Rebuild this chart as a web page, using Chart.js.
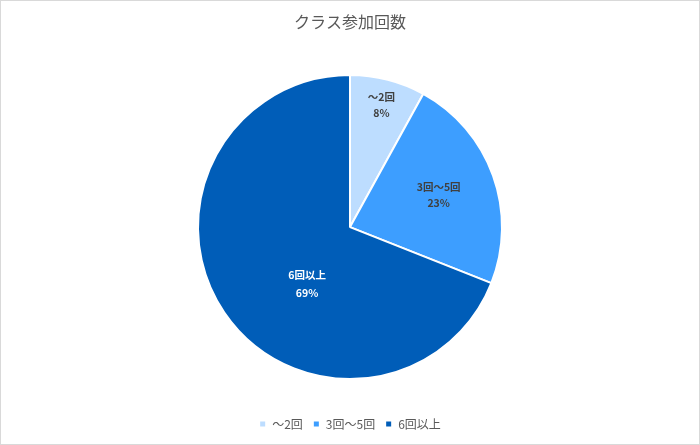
<!DOCTYPE html>
<html>
<head>
<meta charset="utf-8">
<script src="https://cdn.jsdelivr.net/npm/chart.js@4"></script>
<style>
  body { margin: 0; background: #fff; }
  #wrap { width: 700px; height: 445px; box-sizing: border-box; border: 1px solid #d9d9d9; }
</style>
</head>
<body>
<div id="wrap"><canvas id="pieChart" width="698" height="443"></canvas></div>
<script>
const categories = ["～2回", "3回～5回", "6回以上"];
const shares = [8, 23, 69];
const sliceColors = ["#BDDDFF", "#3D9EFF", "#005DB8"];

// label colour, distance from centre (fraction of radius), turn from mid-angle, line gap
const labelColors = ["#404040", "#404040", "#ffffff"];
const labelDist = [0.83, 0.62, 0.47];
const labelTurn = [0, 0, -0.33];
const labelGap = [16, 16, 18];

const jpFont = "'Noto Sans CJK JP', 'Noto Sans', sans-serif";

// draws "category / percent" inside each slice
const sliceLabels = {
    id: "sliceLabels",
    afterDatasetsDraw(chart) {
        const c = chart.ctx;
        const meta = chart.getDatasetMeta(0);
        c.save();
        c.font = "bold 10.5px " + jpFont;
        c.textAlign = "center";
        c.textBaseline = "middle";
        meta.data.forEach((arc, i) => {
            const mid = (arc.startAngle + arc.endAngle) / 2 + labelTurn[i];
            const r = arc.outerRadius * labelDist[i];
            const x = arc.x + Math.cos(mid) * r;
            const y = arc.y + Math.sin(mid) * r;
            c.fillStyle = labelColors[i];
            c.fillText(categories[i], x, y - labelGap[i] / 2);
            c.fillText(shares[i] + "%", x, y + labelGap[i] / 2);
        });
        c.restore();
    }
};

new Chart(document.getElementById("pieChart"), {
    type: "pie",
    data: {
        labels: categories,
        datasets: [{
            data: shares,
            backgroundColor: sliceColors,
            borderColor: "#ffffff",
            borderWidth: 2,
            radius: 152
        }]
    },
    options: {
        responsive: false,
        animation: false,
        layout: { padding: { bottom: 4 } },
        plugins: {
            title: {
                display: true,
                text: "クラス参加回数",
                color: "#595959",
                font: { family: jpFont, size: 16, weight: "normal" },
                padding: { top: 11, bottom: 15 }
            },
            legend: {
                position: "bottom",
                labels: {
                    color: "#595959",
                    font: { family: jpFont, size: 12 },
                    boxWidth: 7,
                    boxHeight: 7,
                    padding: 10
                }
            },
            tooltip: { enabled: false }
        }
    },
    plugins: [sliceLabels]
});
</script>
</body>
</html>
